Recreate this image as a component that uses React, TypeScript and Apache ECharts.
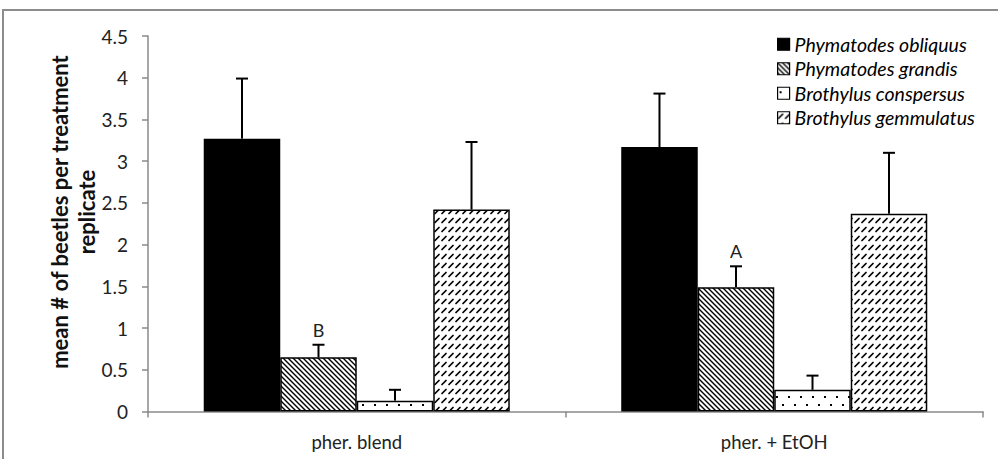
import React, { useEffect, useRef } from "react";
import * as echarts from "echarts";

const categories = ["pher. blend", "pher. + EtOH"];
const speciesNames = [
  "Phymatodes obliquus",
  "Phymatodes grandis",
  "Brothylus conspersus",
  "Brothylus gemmulatus",
];
const obliquusMean = [3.27, 3.17];
const obliquusSE = [0.72, 0.64];
const grandisMean = [0.65, 1.49];
const grandisSE = [0.15, 0.25];
const conspersusMean = [0.13, 0.26];
const conspersusSE = [0.13, 0.17];
const gemmulatusMean = [2.42, 2.37];
const gemmulatusSE = [0.81, 0.73];
const grandisLetters = ["B", "A"];
const yTicks = { min: 0, max: 4.5, interval: 0.5 };

const FONT = "Lato, 'Open Sans', sans-serif";
const CATEGORY_GAP = 0.267;

function makeTile(w: number, h: number, draw: (ctx: CanvasRenderingContext2D) => void) {
  const c = document.createElement("canvas");
  c.width = w;
  c.height = h;
  const ctx = c.getContext("2d")!;
  ctx.fillStyle = "#fff";
  ctx.fillRect(0, 0, w, h);
  ctx.fillStyle = "#000";
  ctx.strokeStyle = "#000";
  draw(ctx);
  return c;
}

function backslashHatch() {
  return makeTile(5, 5, (ctx) => {
    ctx.lineWidth = 1.4;
    ctx.beginPath();
    ctx.moveTo(-1, -1);
    ctx.lineTo(6, 6);
    ctx.moveTo(-1, 4);
    ctx.lineTo(1, 6);
    ctx.moveTo(4, -1);
    ctx.lineTo(6, 1);
    ctx.stroke();
  });
}

function sparseDots() {
  return makeTile(12, 16, (ctx) => {
    ctx.fillRect(2, 4, 2, 2);
    ctx.fillRect(8, 12, 2, 2);
  });
}

function slashDashes() {
  return makeTile(7, 9, (ctx) => {
    ctx.lineWidth = 1.7;
    ctx.lineCap = "round";
    ctx.beginPath();
    ctx.moveTo(1, 6.5);
    ctx.lineTo(5, 2.5);
    ctx.stroke();
  });
}

export default function App() {
  const ref = useRef<HTMLDivElement>(null);

  useEffect(() => {
    if (!ref.current) return;
    const chart = echarts.init(ref.current, undefined, { renderer: "svg" });

    const means = [obliquusMean, grandisMean, conspersusMean, gemmulatusMean];
    const errs = [obliquusSE, grandisSE, conspersusSE, gemmulatusSE];
    const fills: any[] = [
      "#000",
      { image: backslashHatch(), repeat: "repeat" },
      { image: sparseDots(), repeat: "repeat" },
      { image: slashDashes(), repeat: "repeat" },
    ];

    const barSeries = speciesNames.map((name, i) => ({
      name,
      type: "bar",
      data: means[i],
      barGap: "0%",
      barCategoryGap: CATEGORY_GAP * 100 + "%",
      itemStyle: { color: fills[i], borderColor: "#000", borderWidth: 1.5 },
      z: 2,
    }));

    const errorSeries = speciesNames.map((name, i) => ({
      type: "custom",
      name: name + " SE",
      z: 5,
      silent: true,
      data: categories.map((_, c) => [c, means[i][c], means[i][c] + errs[i][c], i === 1 ? grandisLetters[c] : ""]),
      renderItem: (params: any, api: any) => {
        const cat = api.value(0);
        const base = api.coord([cat, api.value(1)]);
        const top = api.coord([cat, api.value(2)]);
        const band = api.size([1, 0])[0];
        const barW = (band * (1 - CATEGORY_GAP)) / 4;
        const x = base[0] + (i - 1.5) * barW;
        const half = 6;
        const children: any[] = [
          {
            type: "line",
            shape: { x1: x, y1: base[1], x2: x, y2: top[1] },
            style: { stroke: "#000", lineWidth: 2 },
          },
          {
            type: "line",
            shape: { x1: x - half, y1: top[1], x2: x + half, y2: top[1] },
            style: { stroke: "#000", lineWidth: 2 },
          },
        ];
        const letter = api.value(3);
        if (letter) {
          children.push({
            type: "text",
            x,
            y: top[1] - 15,
            style: {
              text: letter,
              fill: "#222",
              fontFamily: FONT,
              fontSize: 18,
              align: "center",
              verticalAlign: "middle",
            },
          });
        }
        return { type: "group", children };
      },
    }));

    chart.setOption({
      animation: false,
      backgroundColor: "#fff",
      grid: { left: 148, right: 15, top: 36, bottom: 47.5 },
      legend: {
        data: speciesNames,
        orient: "vertical",
        icon: "rect",
        left: 772,
        top: 28,
        itemWidth: 12,
        itemHeight: 12,
        itemGap: 2,
        itemStyle: { borderColor: "#000", borderWidth: 1.2 },
        textStyle: {
          fontFamily: FONT,
          fontStyle: "italic",
          fontSize: 19.5,
          lineHeight: 22.5,
          color: "#000",
        },
      },
      xAxis: {
        type: "category",
        data: categories,
        axisLine: { lineStyle: { color: "#8a8a8a", width: 1.5 } },
        axisTick: { show: true, length: 6, lineStyle: { color: "#8a8a8a", width: 1.5 } },
        axisLabel: { fontFamily: FONT, fontSize: 18.5, color: "#222", margin: 21 },
      },
      yAxis: {
        type: "value",
        min: yTicks.min,
        max: yTicks.max,
        interval: yTicks.interval,
        splitLine: { show: false },
        axisLine: { show: true, lineStyle: { color: "#8a8a8a", width: 1.5 } },
        axisTick: { show: true, length: 6, lineStyle: { color: "#8a8a8a", width: 1.5 } },
        axisLabel: { fontFamily: FONT, fontSize: 19, color: "#222", margin: 20 },
      },
      graphic: [
        {
          type: "polyline",
          shape: { points: [[3, 460], [3, 10], [1000, 10]] },
          style: { stroke: "#8c8c8c", lineWidth: 2, fill: "none" },
          silent: true,
        },
        {
          type: "text",
          x: 73,
          y: 212,
          rotation: Math.PI / 2,
          style: {
            text: "mean # of beetles per treatment\nreplicate",
            fontFamily: FONT,
            fontWeight: "bold",
            fontSize: 22,
            fill: "#111",
            align: "center",
            verticalAlign: "middle",
            lineHeight: 27,
          },
        },
      ],
      series: [...barSeries, ...errorSeries],
    });

    return () => chart.dispose();
  }, []);

  return (
    <div
      ref={ref}
      style={{ position: "absolute", left: 0, top: 0, width: 998, height: 459 }}
    />
  );
}
